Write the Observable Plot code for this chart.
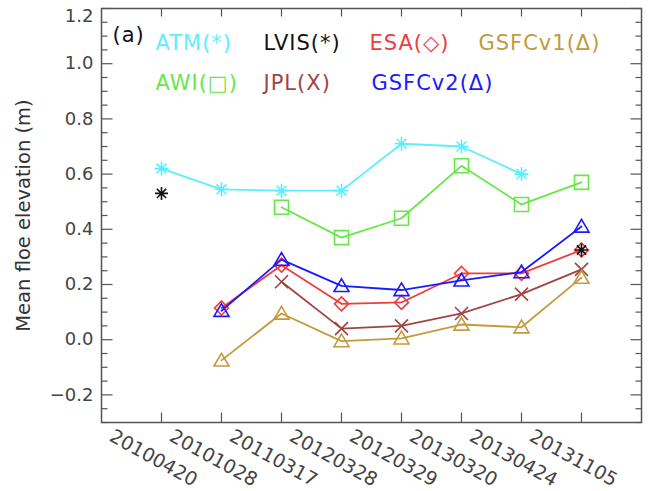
<!DOCTYPE html>
<html>
<head>
<meta charset="utf-8">
<script src="https://cdn.jsdelivr.net/npm/d3@7"></script>
<script src="https://cdn.jsdelivr.net/npm/@observablehq/plot@0.6"></script>
<style>
  html, body { margin: 0; padding: 0; background: #fff; }
  svg { display: block; }
  .legend text { letter-spacing: 1px; }
</style>
</head>
<body>
<div id="chart"></div>
<script>
// ---- data ----
const dates = ["20100420", "20101028", "20110317", "20120328", "20120329", "20130320", "20130424", "20131105"];
const atm    = [0.62, 0.545, 0.54, 0.54, 0.71, 0.70, 0.60, null];
const lvis   = [0.53, null, null, null, null, null, null, 0.325];
const awi    = [null, null, 0.48, 0.37, 0.44, 0.63, 0.49, 0.57];
const esa    = [null, 0.115, 0.27, 0.13, 0.135, 0.24, 0.24, 0.325];
const jpl    = [null, null, 0.21, 0.04, 0.05, 0.095, 0.165, 0.255];
const gsfcv1 = [null, -0.075, 0.095, -0.005, 0.005, 0.055, 0.045, 0.225];
const gsfcv2 = [null, 0.105, 0.29, 0.195, 0.18, 0.215, 0.245, 0.41];
const yMajor = [-0.2, 0, 0.2, 0.4, 0.6, 0.8, 1.0, 1.2];
const yMinor = d3.range(-6, 25).map(i => i * 0.05).filter(v => Math.abs(Math.round(v / 0.2) * 0.2 - v) > 1e-6);
const legendRow1 = [
  {label: "ATM(*)", key: "atm"}, {label: "LVIS(*)", key: "lvis"},
  {label: "ESA(\u25C7)", key: "esa"}, {label: "GSFCv1(\u0394)", key: "gsfcv1"}
];
const legendRow2 = [
  {label: "AWI(\u25A1)", key: "awi"}, {label: "JPL(X)", key: "jpl"}, {label: "GSFCv2(\u0394)", key: "gsfcv2"}
];

// ---- styles ----
const colors = {
  atm: "#5ceeff", lvis: "#111111", esa: "#f03c3c", gsfcv1: "#c49a3c",
  awi: "#66e848", jpl: "#a04444", gsfcv2: "#1a1aff"
};
const axisColor = "#555";
const font = "DejaVu Sans, sans-serif";

// ---- custom symbols (size = pi r^2) ----
const rOf = s => Math.sqrt(s / Math.PI);
const asterisk8 = {draw(c, s) { const r = rOf(s), d = r * Math.SQRT1_2;
  c.moveTo(-r, 0); c.lineTo(r, 0); c.moveTo(0, -r); c.lineTo(0, r);
  c.moveTo(-d, -d); c.lineTo(d, d); c.moveTo(-d, d); c.lineTo(d, -d); }};
const squareS = {draw(c, s) { const r = rOf(s);
  c.moveTo(-r, -r); c.lineTo(r, -r); c.lineTo(r, r); c.lineTo(-r, r); c.closePath(); }};
const diamondS = {draw(c, s) { const r = rOf(s);
  c.moveTo(0, -r); c.lineTo(r, 0); c.lineTo(0, r); c.lineTo(-r, 0); c.closePath(); }};
const crossS = {draw(c, s) { const r = rOf(s);
  c.moveTo(-r, -r); c.lineTo(r, r); c.moveTo(-r, r); c.lineTo(r, -r); }};
const triS = {draw(c, s) { const r = rOf(s);
  c.moveTo(-r, r * 0.75); c.lineTo(0, -r * 0.95); c.lineTo(r, r * 0.75); c.closePath(); }};
const tick = (dx, dy) => ({draw(c, s) { const r = rOf(s);
  c.moveTo(0, 0); c.lineTo(dx * r, dy * r); }});

const series = [
  {key: "atm", vals: atm, sym: asterisk8, r: 7, line: true},
  {key: "awi", vals: awi, sym: squareS, r: 7, line: true},
  {key: "esa", vals: esa, sym: diamondS, r: 7, line: true},
  {key: "jpl", vals: jpl, sym: crossS, r: 6.5, line: true},
  {key: "gsfcv1", vals: gsfcv1, sym: triS, r: 7.5, line: true},
  {key: "gsfcv2", vals: gsfcv2, sym: triS, r: 7.5, line: true},
  {key: "lvis", vals: lvis, sym: asterisk8, r: 6.5, line: false}
];

const marks = [];
// ticks (inward) on all four sides
const xIdx = dates.map((d, i) => i);
const tk = {stroke: axisColor, strokeWidth: 1.2, fill: "none"};
marks.push(Plot.dot(xIdx, {x: d => d, frameAnchor: "bottom", symbol: tick(0, -1), r: 10, ...tk}));
marks.push(Plot.dot(xIdx, {x: d => d, frameAnchor: "top", symbol: tick(0, 1), r: 8, ...tk}));
marks.push(Plot.dot(yMajor, {y: d => d, frameAnchor: "left", symbol: tick(1, 0), r: 11, ...tk}));
marks.push(Plot.dot(yMinor, {y: d => d, frameAnchor: "left", symbol: tick(1, 0), r: 6, ...tk}));
marks.push(Plot.dot(yMajor, {y: d => d, frameAnchor: "right", symbol: tick(-1, 0), r: 11, ...tk}));
marks.push(Plot.dot(yMinor, {y: d => d, frameAnchor: "right", symbol: tick(-1, 0), r: 6, ...tk}));

// y tick labels
const fmt = d => (d < 0 ? "\u2212" : "") + Math.abs(d).toFixed(1);
marks.push(Plot.text(yMajor.filter(d => d < 1.1), {y: d => d, frameAnchor: "left", dx: -8, textAnchor: "end",
  text: fmt, fontSize: 18, fill: "#444", fontFamily: font}));
marks.push(Plot.text(yMajor.filter(d => d > 1.1), {y: d => d, frameAnchor: "left", dx: -8, dy: 8, textAnchor: "end",
  text: fmt, fontSize: 18, fill: "#444", fontFamily: font}));
// x tick labels (rotated)
marks.push(Plot.text(dates, {x: (d, i) => i, frameAnchor: "bottom", text: d => d, rotate: 29,
  dx: -11, dy: 41, fontSize: 19, fill: "#444", fontFamily: font}));
// y label
marks.push(Plot.text(["Mean floe elevation (m)"], {frameAnchor: "left", text: d => d, rotate: -90,
  textAnchor: "middle", dx: -78, fontSize: 19.5, fill: "#333", fontFamily: font}));

// series
for (const s of series) {
  const data = s.vals.map((v, i) => ({i, v}));
  if (s.line) marks.push(Plot.line(data, {x: "i", y: "v", stroke: colors[s.key], strokeWidth: 1.8}));
  marks.push(Plot.dot(data.filter(d => d.v != null), {x: "i", y: "v", symbol: s.sym, r: s.r,
    stroke: colors[s.key], strokeWidth: 1.6, fill: "none"}));
}

// legend text inside plot
const lg = {frameAnchor: "top-left", textAnchor: "start", lineAnchor: "bottom", fontSize: 21, fontFamily: font, className: "legend"};
marks.push(Plot.text(["(a)"], {...lg, text: d => d, dx: 11, dy: 33, fill: "#111"}));
const row1X = [54, 162, 268, 377];
const row2X = [54, 162, 270];
legendRow1.forEach((d, j) => marks.push(Plot.text([d], {...lg, text: "label", dx: row1X[j], dy: 41, fill: colors[d.key]})));
legendRow2.forEach((d, j) => marks.push(Plot.text([d], {...lg, text: "label", dx: row2X[j], dy: 81, fill: colors[d.key]})));

marks.push(Plot.frame({stroke: axisColor, strokeWidth: 1.5}));

const chart = Plot.plot({
  width: 660, height: 491,
  marginLeft: 101, marginRight: 19, marginTop: 8, marginBottom: 69,
  style: {fontFamily: font, background: "#fff"},
  x: {domain: [-1, 8], axis: null},
  y: {domain: [-0.3, 1.2], axis: null},
  marks
});
document.getElementById("chart").appendChild(chart);
</script>
</body>
</html>
